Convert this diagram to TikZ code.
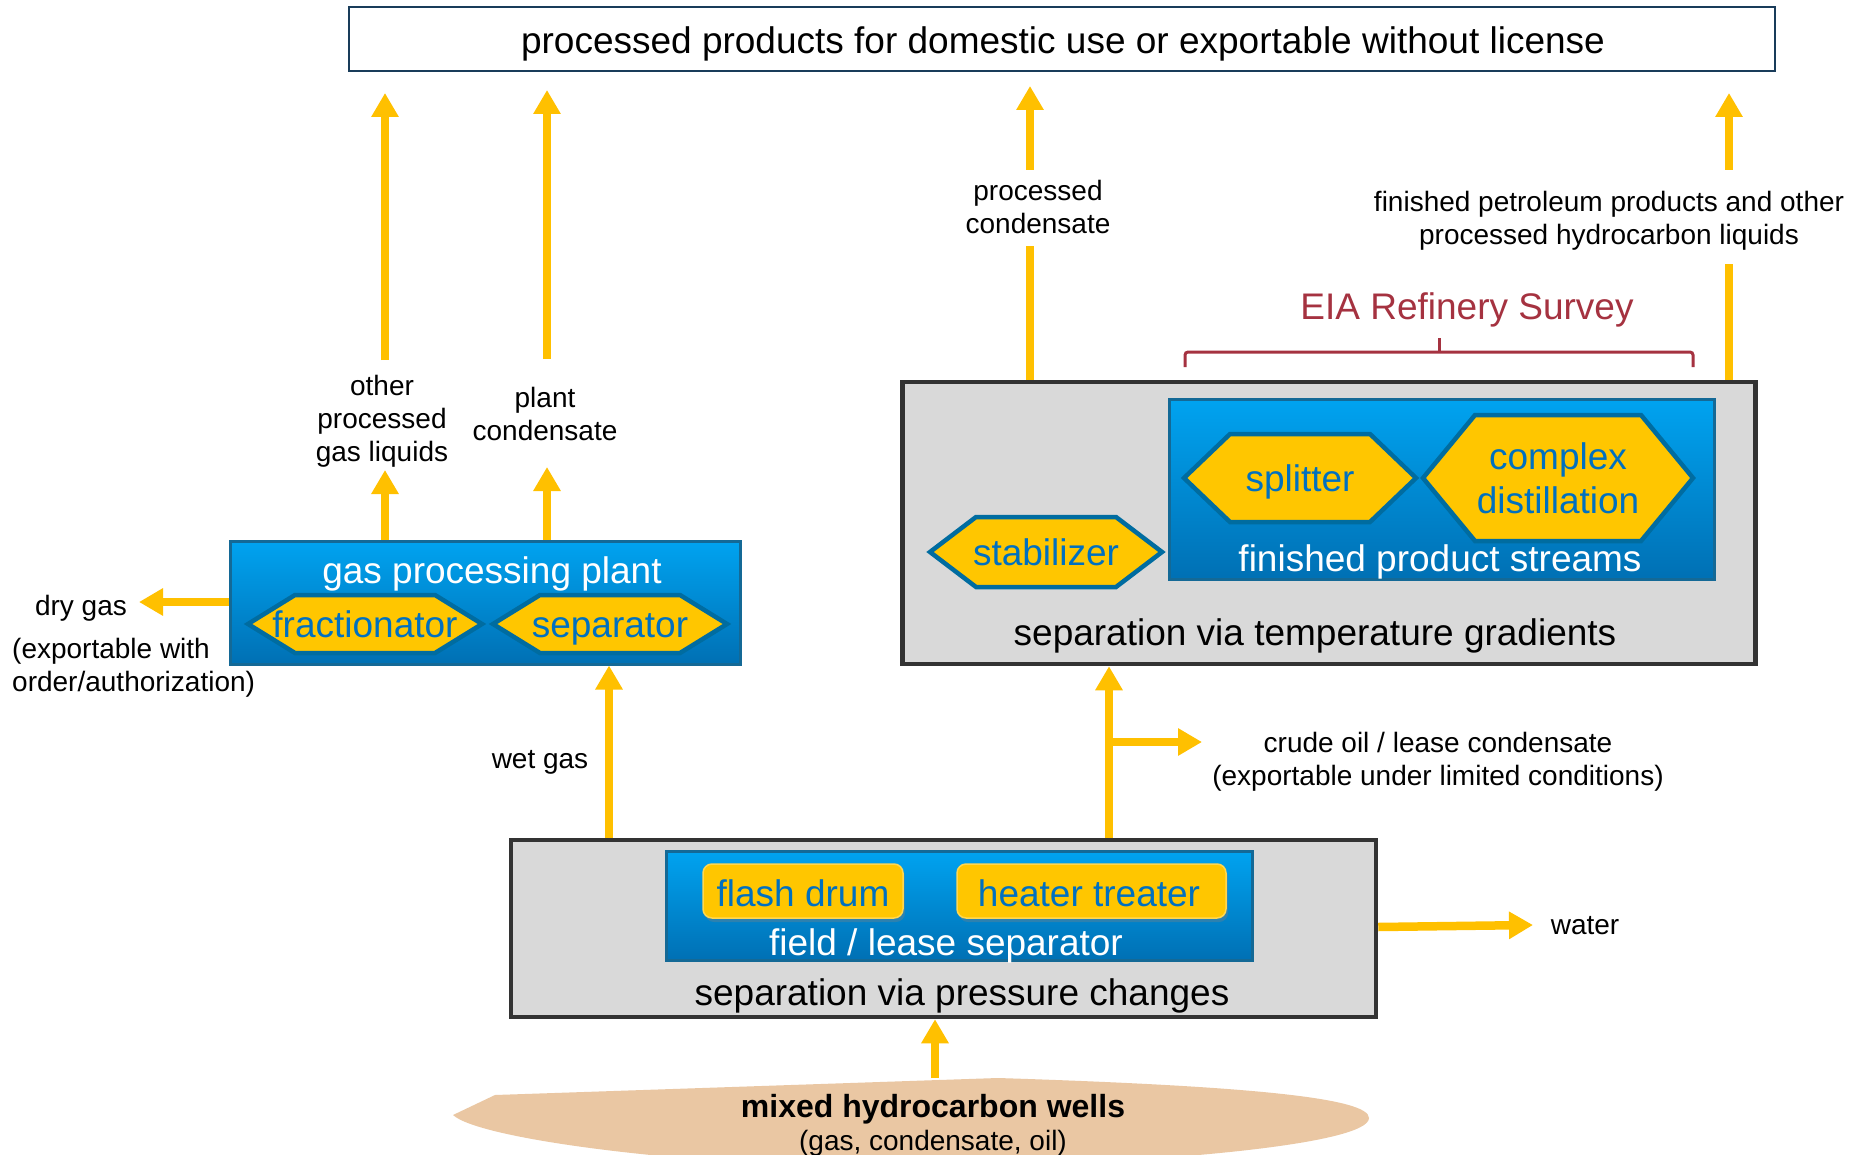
\documentclass[tikz,border=0pt]{standalone}
\usepackage{fontspec}
\setmainfont{Liberation Sans}
\usetikzlibrary{arrows.meta,shadows}
\definecolor{yel}{RGB}{255,192,0}
\definecolor{hexfill}{RGB}{255,198,0}
\definecolor{hexline}{RGB}{0,108,160}
\definecolor{hextext}{RGB}{0,112,192}
\definecolor{bluetop}{RGB}{0,163,240}
\definecolor{bluebot}{RGB}{0,112,180}
\definecolor{blueline}{RGB}{20,105,150}
\definecolor{grayfill}{RGB}{217,217,217}
\definecolor{grayline}{RGB}{51,51,51}
\definecolor{navy}{RGB}{25,60,90}
\definecolor{eiared}{RGB}{165,50,64}
\definecolor{wellc}{RGB}{234,199,163}
\newcommand\hexbox[8]{%
  \draw[hexst] (#2-#4,#3) -- (#2-#4+#6,#3-#5) -- (#2+#4-#6,#3-#5) -- (#2+#4,#3) -- (#2+#4-#6,#3+#5) -- (#2-#4+#6,#3+#5) -- cycle;
  \node[hextxt, #8] (#1) at (#2,#3) {#7};}
\tikzset{
  bigtxt/.style={font=\fontsize{37}{44}\selectfont, text height=33pt, text depth=5.5pt},
  labtxt/.style={font=\fontsize{28}{33}\selectfont, align=center, text height=25pt, text depth=5.5pt},
  lab2/.style={labtxt, text height=58pt},
  lab3/.style={labtxt, text height=91pt},
  hexst/.style={fill=hexfill, draw=hexline, line width=4.5pt, line join=miter},
  hextxt/.style={bigtxt, text=hextext, align=center},
  bluebox/.style={rectangle, top color=bluetop, bottom color=bluebot, draw=blueline, line width=3pt},
  graybox/.style={rectangle, fill=grayfill, draw=grayline, line width=4.5pt},
  yelbox/.style={rectangle, rounded corners=9pt, fill=hexfill, draw={rgb,255:red,255;green,215;blue,80}, line width=1.5pt,
     drop shadow={opacity=0.35, shadow xshift=2pt, shadow yshift=-4pt}},
  yarrow/.style={draw=yel, line width=8.5pt, -{Triangle[width=26pt,length=24pt]}},
  yline/.style={draw=yel, line width=8.5pt},
}
\begin{document}
\begin{tikzpicture}[x=1pt,y=-1pt, every node/.style={inner sep=0pt}]
\useasboundingbox (0,0) rectangle (1862,1155);
\fill[white] (0,0) rectangle (1862,1155);

% wells blob
\begin{scope}
\clip (0,0) rectangle (1862,1155);
\fill[wellc] (453,1115) -- (495,1095) -- (998,1078) .. controls (1250,1086) and (1369,1098) .. (1369,1118)
  .. controls (1369,1145) and (1150,1165) .. (912,1168) .. controls (700,1168) and (480,1140) .. (453,1115) -- cycle;
\end{scope}
\coordinate (wellstop) at (935,1078);
\node[font=\bfseries\fontsize{32}{38}\selectfont, text height=32pt, text depth=5pt] (wells) at (933,1104) {mixed hydrocarbon wells};
\node[labtxt] (wellsub) at (933,1141) {(gas, condensate, oil)};

% top box
\node[rectangle, draw=navy, line width=2.5pt, minimum width=1426pt, minimum height=64pt] (top) at (1062,39) {};
\node[bigtxt] (toptxt) at (1063,40) {processed products for domestic use or exportable without license};

% temperature gradient box
\node[graybox, minimum width=853pt, minimum height=282pt] (tg) at (1329,523) {};
\node[bluebox, minimum width=545pt, minimum height=180pt] (fps) at (1442,489) {};
\hexbox{split}{1300}{478}{116}{44}{46}{splitter}{}
\hexbox{cdist}{1558}{478}{135}{63}{52}{complex\\distillation}{text height=77pt}
\hexbox{stab}{1046}{552}{116}{35}{46}{stabilizer}{}
\node[bigtxt, text=white] (fpstxt) at (1440,558) {finished product streams};
\node[bigtxt] (tgtxt) at (1315,632) {separation via temperature gradients};

% gas processing plant
\node[bluebox, minimum width=510pt, minimum height=123pt] (gpp) at (485,602.5) {};
\node[bigtxt, text=white] (gpptxt) at (492,570) {gas processing plant};
\hexbox{frac}{365}{624}{117}{29}{47}{fractionator}{}
\hexbox{sep}{610}{624}{117}{29}{47}{separator}{}

% pressure changes box
\node[graybox, minimum width=865pt, minimum height=177pt] (pc) at (943.5,928.5) {};
\node[bluebox, minimum width=586pt, minimum height=109pt] (fls) at (959,905.5) {};
\node[yelbox, minimum width=200pt, minimum height=54pt] (flash) at (803,891) {};
\node[hextxt] (flashtxt) at (803,893) {flash drum};
\node[yelbox, minimum width=269pt, minimum height=54pt] (heat) at (1091.5,891) {};
\node[hextxt] (heattxt) at (1089,893) {heater treater};
\node[bigtxt, text=white] (flstxt) at (946,942) {field / lease separator};
\node[bigtxt] (pctxt) at (962,992) {separation via pressure changes};

% labels
\node[lab3] (opgl) at (382,419) {other\\processed\\gas liquids};
\node[lab2] (plc) at (545,414.5) {plant\\condensate};
\node[lab2] (prc) at (1038,207.5) {processed\\condensate};
\node[lab2] (fin) at (1609,218.5) {finished petroleum products and other\\processed hydrocarbon liquids};
\node[labtxt] (dry) at (81,606) {dry gas};
\node[lab2, align=left, anchor=west] (dryx) at (12,665) {(exportable with\\order/authorization)};
\node[labtxt] (wet) at (540,759) {wet gas};
\node[lab2] (crude) at (1438,759.5) {crude oil / lease condensate\\(exportable under limited conditions)};
\node[labtxt] (water) at (1585,925) {water};
\node[bigtxt, text=eiared] (eia) at (1467,306) {EIA Refinery Survey};

% EIA brace
\draw[eiared, line width=3pt, rounded corners=3pt] (1185,367) |- (1693,352) -- (1693,367);
\draw[eiared, line width=3pt] (1439,352) -- (1439,338);

% coordinates for free ends
\coordinate (a1t) at (385,93);
\coordinate (a1b) at (385,360);
\coordinate (a2t) at (547,90);
\coordinate (a2b) at (547,359);
\coordinate (a3t) at (1030,86);
\coordinate (a3m) at (1030,170);
\coordinate (a3b) at (1030,246);
\coordinate (a4t) at (1729,93);
\coordinate (a4m) at (1729,170);
\coordinate (a4b) at (1729,264);
\coordinate (dryend) at (139,602);
\coordinate (crudeend) at (1202,742);
\coordinate (waterend) at (1533,925);
\coordinate (opglb) at (385,470);
\coordinate (plcb) at (547,467);

% arrows
\draw[yarrow] (gpp.north -| opglb) -- (opglb);
\draw[yarrow] (a1b) -- (a1t);
\draw[yarrow] (gpp.north -| plcb) -- (plcb);
\draw[yarrow] (a2b) -- (a2t);
\draw[yline] (tg.north -| a3b) -- (a3b);
\draw[yarrow] (a3m) -- (a3t);
\draw[yline] (tg.north -| a4b) -- (a4b);
\draw[yarrow] (a4m) -- (a4t);
\draw[yarrow] (gpp.west |- dryend) -- (dryend);
\draw[yarrow] (pc.north -| 609,0) -- (gpp.south -| 609,0);
\draw[yarrow] (pc.north -| 1109,0) -- (tg.south -| 1109,0);
\draw[yarrow] (crudeend -| 1105,0) -- (crudeend);
\draw[yarrow] (pc.east |- 0,927) -- (waterend);
\draw[yarrow] (wellstop) -- (pc.south -| wellstop);
\end{tikzpicture}
\end{document}
